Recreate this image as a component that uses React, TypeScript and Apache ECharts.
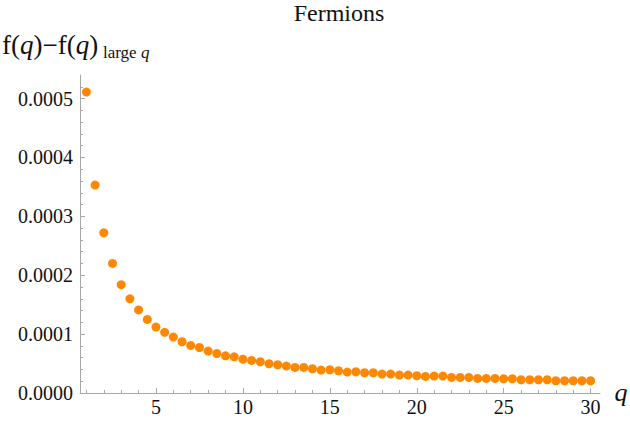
import React, { useEffect, useRef } from 'react';
import * as echarts from 'echarts';

const qValues = [
  1, 1.5, 2, 2.5, 3, 3.5, 4, 4.5, 5, 5.5, 6, 6.5, 7, 7.5, 8, 8.5, 9, 9.5, 10, 10.5,
  11, 11.5, 12, 12.5, 13, 13.5, 14, 14.5, 15, 15.5, 16, 16.5, 17, 17.5, 18, 18.5, 19, 19.5, 20, 20.5,
  21, 21.5, 22, 22.5, 23, 23.5, 24, 24.5, 25, 25.5, 26, 26.5, 27, 27.5, 28, 28.5, 29, 29.5, 30,
];

const fValues = [
  0.000511, 0.000353, 0.000272, 0.00022, 0.000184, 0.00016, 0.000141, 0.000125, 0.000112, 0.000103,
  0.000095, 0.000087, 0.0000807, 0.0000773, 0.0000712, 0.0000671, 0.0000632, 0.0000615, 0.0000575, 0.0000553,
  0.0000531, 0.0000497, 0.000048, 0.0000458, 0.0000434, 0.0000434, 0.0000412, 0.000039, 0.0000395, 0.0000378,
  0.0000356, 0.0000361, 0.0000344, 0.0000344, 0.0000322, 0.0000322, 0.0000305, 0.0000305, 0.0000293, 0.0000281,
  0.0000288, 0.0000288, 0.0000264, 0.0000264, 0.0000264, 0.0000247, 0.0000247, 0.0000247, 0.0000242, 0.0000242,
  0.0000225, 0.0000225, 0.0000225, 0.0000225, 0.0000208, 0.0000208, 0.0000208, 0.0000208, 0.0000208,
];

const xTickLabels = [5, 10, 15, 20, 25, 30];
const xMinorTicks = [
  1, 2, 3, 4, 5, 6, 7, 8, 9, 10, 11, 12, 13, 14, 15, 16, 17, 18, 19, 20,
  21, 22, 23, 24, 25, 26, 27, 28, 29, 30,
];
const yTickLabels = [0, 0.0001, 0.0002, 0.0003, 0.0004, 0.0005];
const yMinorTicks = [
  0, 0.00002, 0.00004, 0.00006, 0.00008, 0.0001, 0.00012, 0.00014, 0.00016, 0.00018,
  0.0002, 0.00022, 0.00024, 0.00026, 0.00028, 0.0003, 0.00032, 0.00034, 0.00036, 0.00038,
  0.0004, 0.00042, 0.00044, 0.00046, 0.00048, 0.0005, 0.00052,
];

const FONT = 'Liberation Serif';
const AXIS_GRAY = '#a8a8a8';
const DOT = '#ff8800';
const INK = '#111111';

export default function App() {
  const ref = useRef<HTMLDivElement>(null);
  useEffect(() => {
    const chart = echarts.init(ref.current!, null, { renderer: 'svg' });
    const xMin = 0.63;
    const xMax = 30.54;
    const yMin = 0;
    const yMax = 0.00054;
    chart.setOption({
      animation: false,
      backgroundColor: '#ffffff',
      textStyle: { fontFamily: FONT },
      grid: { left: 80, right: 30, top: 75, bottom: 33, containLabel: false, outerBoundsMode: 'none' },
      xAxis: [
        {
          type: 'value', min: xMin, max: xMax, position: 'bottom',
          axisLine: { show: true, onZero: false, lineStyle: { color: AXIS_GRAY, width: 1 } },
          axisTick: { show: true, inside: true, length: 3, customValues: xMinorTicks, lineStyle: { color: AXIS_GRAY } },
          axisLabel: { show: true, customValues: xTickLabels, margin: 4, fontFamily: FONT, fontSize: 20, color: INK },
          splitLine: { show: false },
        },
        {
          type: 'value', min: xMin, max: xMax, position: 'bottom',
          axisLine: { show: false },
          axisTick: { show: true, inside: true, length: 5, customValues: xTickLabels, lineStyle: { color: AXIS_GRAY } },
          axisLabel: { show: false },
          splitLine: { show: false },
        },
      ],
      yAxis: [
        {
          type: 'value', min: yMin, max: yMax, position: 'left',
          axisLine: { show: true, onZero: false, lineStyle: { color: AXIS_GRAY, width: 1 } },
          axisTick: { show: true, inside: true, length: 3, customValues: yMinorTicks, lineStyle: { color: AXIS_GRAY } },
          axisLabel: {
            show: true, customValues: yTickLabels, margin: 7, fontFamily: FONT, fontSize: 20, color: INK,
            formatter: (v: number) => v.toFixed(4),
          },
          splitLine: { show: false },
        },
        {
          type: 'value', min: yMin, max: yMax, position: 'left',
          axisLine: { show: false },
          axisTick: { show: true, inside: true, length: 5, customValues: yTickLabels, lineStyle: { color: AXIS_GRAY } },
          axisLabel: { show: false },
          splitLine: { show: false },
        },
      ],
      series: [
        {
          type: 'scatter',
          xAxisIndex: 0,
          yAxisIndex: 0,
          symbol: 'circle',
          symbolSize: 9,
          itemStyle: { color: DOT, opacity: 1 },
          data: qValues.map((q, i) => [q, fValues[i]]),
        },
      ],
      graphic: [
        {
          type: 'text', x: 339, y: 12.5,
          style: {
            text: 'Fermions', fontFamily: FONT, fontSize: 24, fill: INK,
            align: 'center', verticalAlign: 'middle',
          },
        },
        {
          type: 'text', x: 2, y: 45,
          style: {
            text: '{a|f(}{i|q}{a|)−f(}{i|q}{a|)}',
            rich: {
              a: { fontFamily: FONT, fontSize: 27, fill: INK },
              i: { fontFamily: FONT, fontSize: 27, fontStyle: 'italic', fill: INK },
            },
            fontFamily: FONT, fontSize: 27, fill: INK,
            align: 'left', verticalAlign: 'middle',
          },
        },
        {
          type: 'text', x: 103, y: 52.5,
          style: {
            text: '{a|large }{i|q}',
            rich: {
              a: { fontFamily: FONT, fontSize: 17, fill: INK },
              i: { fontFamily: FONT, fontSize: 17, fontStyle: 'italic', fill: INK },
            },
            fontFamily: FONT, fontSize: 17, fill: INK,
            align: 'left', verticalAlign: 'middle',
          },
        },
        {
          type: 'text', x: 621, y: 392,
          style: {
            text: 'q', fontFamily: FONT, fontSize: 26, fontStyle: 'italic', fill: INK,
            align: 'center', verticalAlign: 'middle',
          },
        },
      ],
    });
    return () => chart.dispose();
  }, []);
  return <div ref={ref} style={{ position: 'fixed', left: 0, top: 0, width: 630, height: 426 }} />;
}
